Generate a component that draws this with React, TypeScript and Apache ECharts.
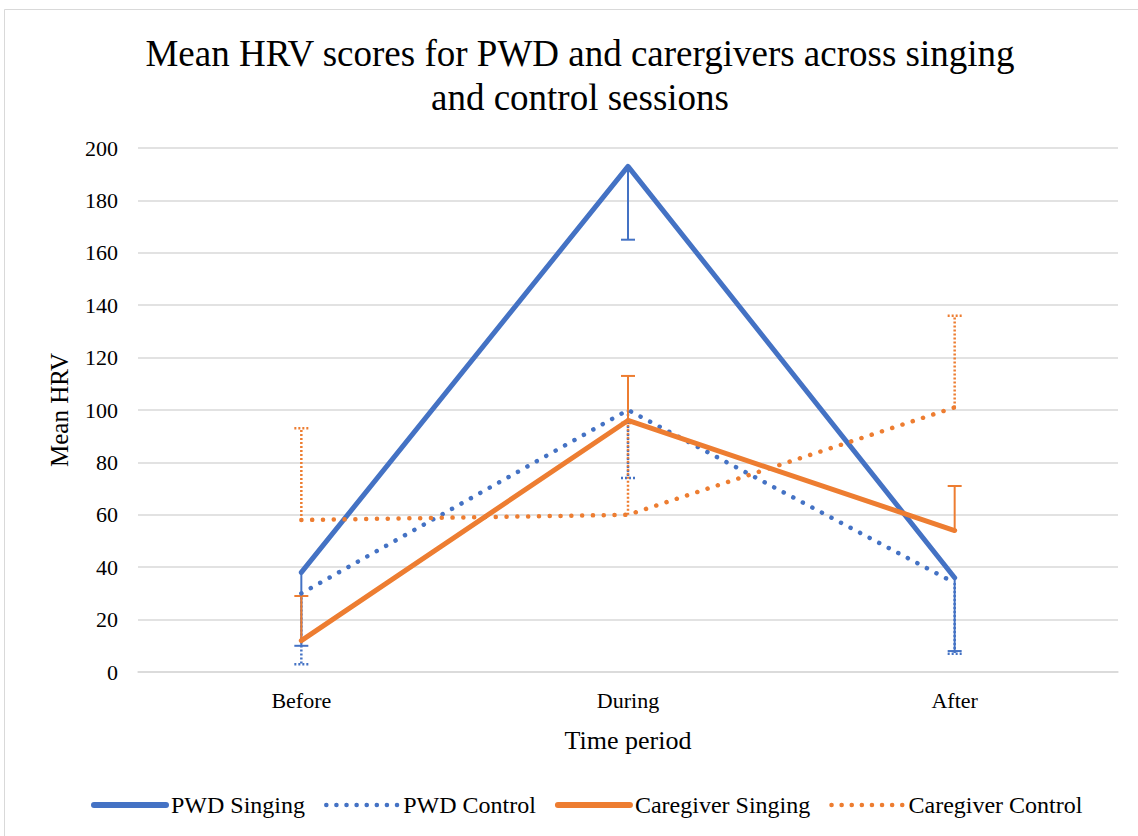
import React, { useEffect, useRef } from "react";
import * as echarts from "echarts";

const categories = ["Before", "During", "After"];
const yTicks = [0, 20, 40, 60, 80, 100, 120, 140, 160, 180, 200];

const pwdSinging = [38, 193, 36];
const pwdControl = [30, 100, 34];
const cgSinging = [12, 96, 54];
const cgControl = [58, 60, 101];

// error bar sizes (minus for PWD, plus for caregivers)
const pwdSingingErr = [28, 28, 28];
const pwdControlErr = [27, 26, 27];
const cgSingingErr = [17, 17, 17];
const cgControlErr = [35, 35, 35];

const BLUE = "#4472C4";
const ORANGE = "#ED7D31";
const FONT = "Liberation Serif";

function errSeries(name: string, vals: number[], errs: number[], sign: number, color: string, dotted: boolean) {
  const data = vals.map((v, i) => [i, v, v + sign * errs[i]]);
  return {
    type: "custom",
    name: name + " err",
    z: 1,
    silent: true,
    data,
    renderItem: (params: any, api: any) => {
      const p0 = api.coord([api.value(0), api.value(1)]);
      const p1 = api.coord([api.value(0), api.value(2)]);
      const style = {
        stroke: color,
        lineWidth: dotted ? 2.5 : 2,
        lineDash: dotted ? [2, 2] : null,
        fill: null,
      };
      return {
        type: "group",
        children: [
          { type: "line", shape: { x1: p0[0], y1: p0[1], x2: p1[0], y2: p1[1] }, style },
          { type: "line", shape: { x1: p1[0] - 7, y1: p1[1], x2: p1[0] + 7, y2: p1[1] }, style },
        ],
      };
    },
  };
}

function lineStyleFor(color: string, dotted: boolean) {
  return {
    color,
    width: dotted ? 4.5 : 5,
    type: dotted ? [0.1, 10.7] : "solid",
    cap: "round",
    join: "round",
  };
}

function lineSeries(name: string, data: number[], color: string, dotted: boolean) {
  return {
    type: "line",
    name,
    data,
    z: 3,
    symbol: "none",
    showSymbol: false,
    color,
    lineStyle: lineStyleFor(color, dotted),
  };
}

const legendText = { fontFamily: FONT, fontSize: 24, color: "#000" };

function legendItem(name: string, color: string, dotted: boolean) {
  return {
    name,
    itemStyle: { opacity: 0 },
    textStyle: legendText,
    lineStyle: { ...lineStyleFor(color, dotted), type: dotted ? [0.1, 10] : "solid", width: dotted ? 4.5 : 6 },
  };
}

export default function App() {
  const ref = useRef<HTMLDivElement>(null);
  useEffect(() => {
    document.body.style.margin = "0";
    const chart = echarts.init(ref.current!, null, { renderer: "svg" });
    chart.setOption({
      animation: false,
      backgroundColor: "#ffffff",
      textStyle: { fontFamily: FONT },
      graphic: [
        {
          type: "rect",
          shape: { x: 4.5, y: 9.5, width: 1200, height: 900 },
          style: { fill: "none", stroke: "#D9D9D9", lineWidth: 1 },
          silent: true,
        },
        {
          type: "text",
          x: 580,
          y: 53,
          style: {
            text: "Mean HRV scores for PWD and carergivers across singing",
            fontFamily: FONT,
            fontSize: 37,
            fill: "#000",
            align: "center",
            verticalAlign: "middle",
          },
        },
        {
          type: "text",
          x: 580,
          y: 97,
          style: {
            text: "and control sessions",
            fontFamily: FONT,
            fontSize: 37,
            fill: "#000",
            align: "center",
            verticalAlign: "middle",
          },
        },
      ],
      grid: { left: 138, right: 20, top: 148, bottom: 164, containLabel: false },
      xAxis: {
        type: "category",
        data: categories,
        boundaryGap: true,
        name: "Time period",
        nameLocation: "middle",
        nameGap: 55,
        nameTextStyle: { fontFamily: FONT, fontSize: 26, color: "#000" },
        axisLine: { lineStyle: { color: "#D9D9D9", width: 1.5 } },
        axisTick: { show: false },
        axisLabel: { fontFamily: FONT, fontSize: 22, color: "#000", margin: 17 },
      },
      yAxis: {
        type: "value",
        min: yTicks[0],
        max: yTicks[yTicks.length - 1],
        interval: 20,
        name: "Mean HRV",
        nameLocation: "middle",
        nameGap: 66,
        nameRotate: 90,
        nameTextStyle: { fontFamily: FONT, fontSize: 25, color: "#000" },
        axisLine: { show: false },
        axisTick: { show: false },
        axisLabel: { fontFamily: FONT, fontSize: 22, color: "#000", margin: 20 },
        splitLine: { lineStyle: { color: "#D9D9D9", width: 1.5 } },
      },
      legend: {
        bottom: 14,
        left: 86,
        right: 0,
        itemWidth: 72,
        itemHeight: 14,
        itemGap: 19,
        textStyle: legendText,
        data: [
          legendItem("PWD Singing", BLUE, false),
          legendItem("PWD Control", BLUE, true),
          legendItem("Caregiver Singing", ORANGE, false),
          legendItem("Caregiver Control", ORANGE, true),
        ],
      },
      series: [
        errSeries("PWD Singing", pwdSinging, pwdSingingErr, -1, BLUE, false),
        errSeries("PWD Control", pwdControl, pwdControlErr, -1, BLUE, true),
        errSeries("Caregiver Singing", cgSinging, cgSingingErr, 1, ORANGE, false),
        errSeries("Caregiver Control", cgControl, cgControlErr, 1, ORANGE, true),
        lineSeries("PWD Singing", pwdSinging, BLUE, false),
        lineSeries("PWD Control", pwdControl, BLUE, true),
        lineSeries("Caregiver Singing", cgSinging, ORANGE, false),
        lineSeries("Caregiver Control", cgControl, ORANGE, true),
      ],
    });
    return () => chart.dispose();
  }, []);
  return <div ref={ref} style={{ width: 1138, height: 836 }} />;
}
